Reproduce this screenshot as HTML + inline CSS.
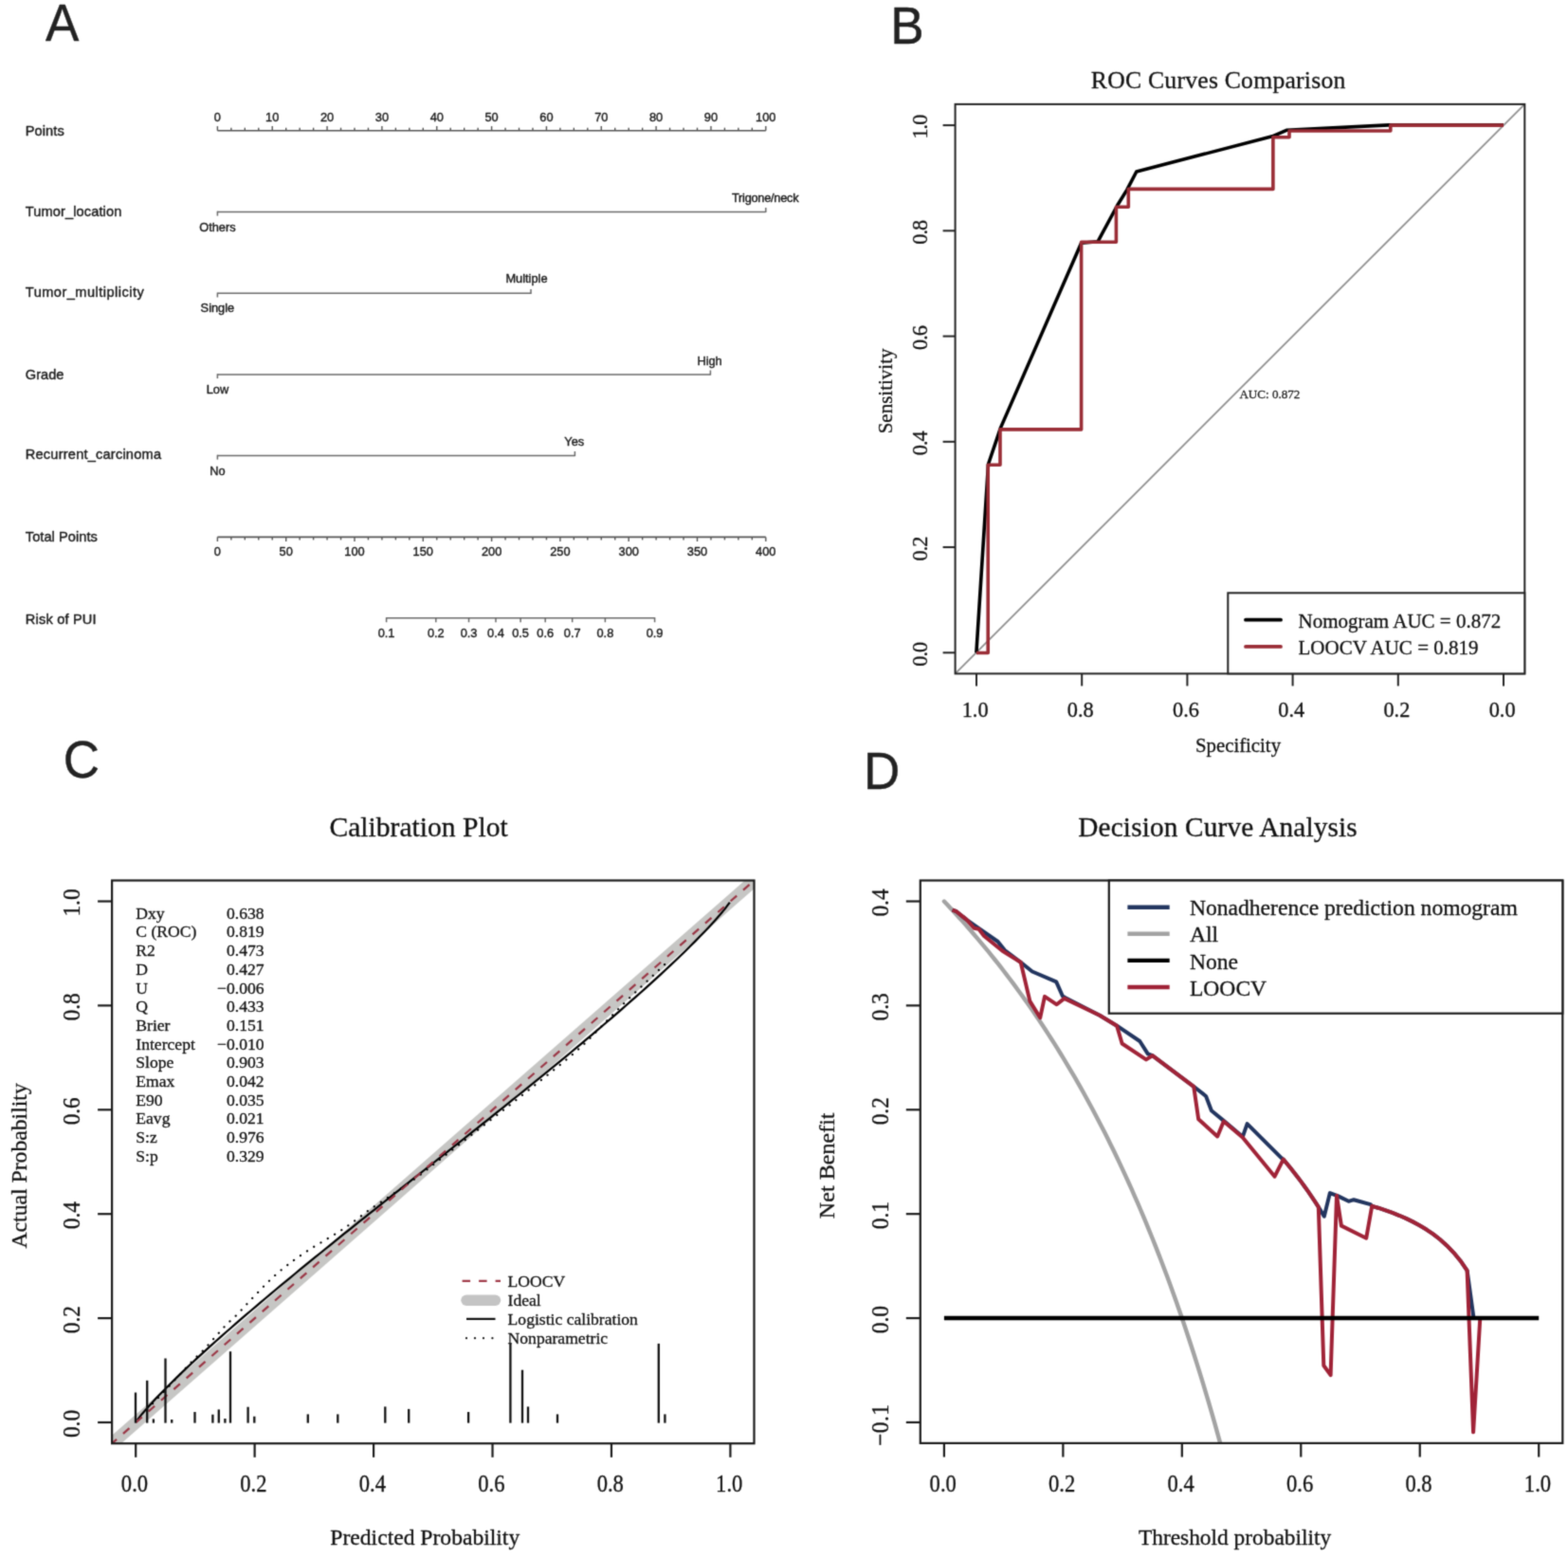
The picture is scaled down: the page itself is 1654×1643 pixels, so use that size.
<!DOCTYPE html>
<html><head><meta charset="utf-8"><title>Figure</title>
<style>html,body{margin:0;padding:0;background:#fff;}svg{display:block;}
text{paint-order:stroke;stroke-linejoin:round;}
text.s{stroke:#1a1a1a;stroke-width:0.4px;}
text.r{stroke:#111;stroke-width:0.3px;}</style></head>
<body><svg width="1654" height="1643" viewBox="0 0 1654 1643">
<defs><filter id="soft" x="0" y="0" width="1654" height="1643" filterUnits="userSpaceOnUse" color-interpolation-filters="sRGB"><feConvolveMatrix order="3" kernelMatrix="0.02768 0.11101 0.02768 0.11101 0.44521 0.11101 0.02768 0.11101 0.02768" divisor="1" edgeMode="duplicate" preserveAlpha="true"/></filter></defs>
<g filter="url(#soft)">
<rect width="1654" height="1643" fill="#fff"/>
<text class="s" transform="translate(48 42.6) scale(1 1.03)" font-size="53" font-family="'Liberation Sans', Arial, sans-serif" text-anchor="start" fill="#222">A</text>
<text class="s" transform="translate(939.3 45.6) scale(1 1.03)" font-size="53" font-family="'Liberation Sans', Arial, sans-serif" text-anchor="start" fill="#222">B</text>
<text class="s" transform="translate(66.7 820.3) scale(1 1.03)" font-size="53" font-family="'Liberation Sans', Arial, sans-serif" text-anchor="start" fill="#222">C</text>
<text class="s" transform="translate(910.9 832.4) scale(1 1.03)" font-size="53" font-family="'Liberation Sans', Arial, sans-serif" text-anchor="start" fill="#222">D</text>
<text class="s" x="26.8" y="143.3" font-size="14.6" font-family="'Liberation Sans', Arial, sans-serif" text-anchor="start" fill="#1a1a1a" textLength="40.9">Points</text>
<text class="s" x="26.8" y="227.6" font-size="14.6" font-family="'Liberation Sans', Arial, sans-serif" text-anchor="start" fill="#1a1a1a" textLength="101.5">Tumor_location</text>
<text class="s" x="26.8" y="313" font-size="14.6" font-family="'Liberation Sans', Arial, sans-serif" text-anchor="start" fill="#1a1a1a" textLength="125">Tumor_multiplicity</text>
<text class="s" x="26.8" y="399.9" font-size="14.6" font-family="'Liberation Sans', Arial, sans-serif" text-anchor="start" fill="#1a1a1a" textLength="40.6">Grade</text>
<text class="s" x="26.8" y="484.2" font-size="14.6" font-family="'Liberation Sans', Arial, sans-serif" text-anchor="start" fill="#1a1a1a" textLength="143.2">Recurrent_carcinoma</text>
<text class="s" x="26.8" y="571.3" font-size="14.6" font-family="'Liberation Sans', Arial, sans-serif" text-anchor="start" fill="#1a1a1a" textLength="76">Total Points</text>
<text class="s" x="26.8" y="657.5" font-size="14.6" font-family="'Liberation Sans', Arial, sans-serif" text-anchor="start" fill="#1a1a1a" textLength="74.8">Risk of PUI</text>
<line x1="229.4" y1="137.7" x2="807.8" y2="137.7" stroke="#555" stroke-width="1.6"/>
<line x1="229.4" y1="137.7" x2="229.4" y2="133.1" stroke="#555" stroke-width="1.4"/>
<text class="s" x="229.4" y="127.6" font-size="12.8" font-family="'Liberation Sans', Arial, sans-serif" text-anchor="middle" fill="#1a1a1a">0</text>
<line x1="243.86" y1="137.7" x2="243.86" y2="134.7" stroke="#555" stroke-width="1.4"/>
<line x1="258.32" y1="137.7" x2="258.32" y2="134.7" stroke="#555" stroke-width="1.4"/>
<line x1="272.78" y1="137.7" x2="272.78" y2="134.7" stroke="#555" stroke-width="1.4"/>
<line x1="287.24" y1="137.7" x2="287.24" y2="133.1" stroke="#555" stroke-width="1.4"/>
<text class="s" x="287.24" y="127.6" font-size="12.8" font-family="'Liberation Sans', Arial, sans-serif" text-anchor="middle" fill="#1a1a1a">10</text>
<line x1="301.7" y1="137.7" x2="301.7" y2="134.7" stroke="#555" stroke-width="1.4"/>
<line x1="316.16" y1="137.7" x2="316.16" y2="134.7" stroke="#555" stroke-width="1.4"/>
<line x1="330.62" y1="137.7" x2="330.62" y2="134.7" stroke="#555" stroke-width="1.4"/>
<line x1="345.08" y1="137.7" x2="345.08" y2="133.1" stroke="#555" stroke-width="1.4"/>
<text class="s" x="345.08" y="127.6" font-size="12.8" font-family="'Liberation Sans', Arial, sans-serif" text-anchor="middle" fill="#1a1a1a">20</text>
<line x1="359.54" y1="137.7" x2="359.54" y2="134.7" stroke="#555" stroke-width="1.4"/>
<line x1="374" y1="137.7" x2="374" y2="134.7" stroke="#555" stroke-width="1.4"/>
<line x1="388.46" y1="137.7" x2="388.46" y2="134.7" stroke="#555" stroke-width="1.4"/>
<line x1="402.92" y1="137.7" x2="402.92" y2="133.1" stroke="#555" stroke-width="1.4"/>
<text class="s" x="402.92" y="127.6" font-size="12.8" font-family="'Liberation Sans', Arial, sans-serif" text-anchor="middle" fill="#1a1a1a">30</text>
<line x1="417.38" y1="137.7" x2="417.38" y2="134.7" stroke="#555" stroke-width="1.4"/>
<line x1="431.84" y1="137.7" x2="431.84" y2="134.7" stroke="#555" stroke-width="1.4"/>
<line x1="446.3" y1="137.7" x2="446.3" y2="134.7" stroke="#555" stroke-width="1.4"/>
<line x1="460.76" y1="137.7" x2="460.76" y2="133.1" stroke="#555" stroke-width="1.4"/>
<text class="s" x="460.76" y="127.6" font-size="12.8" font-family="'Liberation Sans', Arial, sans-serif" text-anchor="middle" fill="#1a1a1a">40</text>
<line x1="475.22" y1="137.7" x2="475.22" y2="134.7" stroke="#555" stroke-width="1.4"/>
<line x1="489.68" y1="137.7" x2="489.68" y2="134.7" stroke="#555" stroke-width="1.4"/>
<line x1="504.14" y1="137.7" x2="504.14" y2="134.7" stroke="#555" stroke-width="1.4"/>
<line x1="518.6" y1="137.7" x2="518.6" y2="133.1" stroke="#555" stroke-width="1.4"/>
<text class="s" x="518.6" y="127.6" font-size="12.8" font-family="'Liberation Sans', Arial, sans-serif" text-anchor="middle" fill="#1a1a1a">50</text>
<line x1="533.06" y1="137.7" x2="533.06" y2="134.7" stroke="#555" stroke-width="1.4"/>
<line x1="547.52" y1="137.7" x2="547.52" y2="134.7" stroke="#555" stroke-width="1.4"/>
<line x1="561.98" y1="137.7" x2="561.98" y2="134.7" stroke="#555" stroke-width="1.4"/>
<line x1="576.44" y1="137.7" x2="576.44" y2="133.1" stroke="#555" stroke-width="1.4"/>
<text class="s" x="576.44" y="127.6" font-size="12.8" font-family="'Liberation Sans', Arial, sans-serif" text-anchor="middle" fill="#1a1a1a">60</text>
<line x1="590.9" y1="137.7" x2="590.9" y2="134.7" stroke="#555" stroke-width="1.4"/>
<line x1="605.36" y1="137.7" x2="605.36" y2="134.7" stroke="#555" stroke-width="1.4"/>
<line x1="619.82" y1="137.7" x2="619.82" y2="134.7" stroke="#555" stroke-width="1.4"/>
<line x1="634.28" y1="137.7" x2="634.28" y2="133.1" stroke="#555" stroke-width="1.4"/>
<text class="s" x="634.28" y="127.6" font-size="12.8" font-family="'Liberation Sans', Arial, sans-serif" text-anchor="middle" fill="#1a1a1a">70</text>
<line x1="648.74" y1="137.7" x2="648.74" y2="134.7" stroke="#555" stroke-width="1.4"/>
<line x1="663.2" y1="137.7" x2="663.2" y2="134.7" stroke="#555" stroke-width="1.4"/>
<line x1="677.66" y1="137.7" x2="677.66" y2="134.7" stroke="#555" stroke-width="1.4"/>
<line x1="692.12" y1="137.7" x2="692.12" y2="133.1" stroke="#555" stroke-width="1.4"/>
<text class="s" x="692.12" y="127.6" font-size="12.8" font-family="'Liberation Sans', Arial, sans-serif" text-anchor="middle" fill="#1a1a1a">80</text>
<line x1="706.58" y1="137.7" x2="706.58" y2="134.7" stroke="#555" stroke-width="1.4"/>
<line x1="721.04" y1="137.7" x2="721.04" y2="134.7" stroke="#555" stroke-width="1.4"/>
<line x1="735.5" y1="137.7" x2="735.5" y2="134.7" stroke="#555" stroke-width="1.4"/>
<line x1="749.96" y1="137.7" x2="749.96" y2="133.1" stroke="#555" stroke-width="1.4"/>
<text class="s" x="749.96" y="127.6" font-size="12.8" font-family="'Liberation Sans', Arial, sans-serif" text-anchor="middle" fill="#1a1a1a">90</text>
<line x1="764.42" y1="137.7" x2="764.42" y2="134.7" stroke="#555" stroke-width="1.4"/>
<line x1="778.88" y1="137.7" x2="778.88" y2="134.7" stroke="#555" stroke-width="1.4"/>
<line x1="793.34" y1="137.7" x2="793.34" y2="134.7" stroke="#555" stroke-width="1.4"/>
<line x1="807.8" y1="137.7" x2="807.8" y2="133.1" stroke="#555" stroke-width="1.4"/>
<text class="s" x="807.8" y="127.6" font-size="12.8" font-family="'Liberation Sans', Arial, sans-serif" text-anchor="middle" fill="#1a1a1a">100</text>
<line x1="229.4" y1="223.4" x2="807.8" y2="223.4" stroke="#6a6a6a" stroke-width="1.5"/>
<line x1="229.4" y1="222.7" x2="229.4" y2="227.6" stroke="#6a6a6a" stroke-width="1.5"/>
<line x1="807.8" y1="224.1" x2="807.8" y2="219" stroke="#6a6a6a" stroke-width="1.5"/>
<text class="s" x="229.4" y="243.9" font-size="12.8" font-family="'Liberation Sans', Arial, sans-serif" text-anchor="middle" fill="#1a1a1a">Others</text>
<text class="s" x="807.3" y="213" font-size="12.8" font-family="'Liberation Sans', Arial, sans-serif" text-anchor="middle" fill="#1a1a1a" textLength="70.6">Trigone/neck</text>
<line x1="229.4" y1="309.3" x2="560" y2="309.3" stroke="#6a6a6a" stroke-width="1.5"/>
<line x1="229.4" y1="308.6" x2="229.4" y2="313.5" stroke="#6a6a6a" stroke-width="1.5"/>
<line x1="560" y1="310" x2="560" y2="304.9" stroke="#6a6a6a" stroke-width="1.5"/>
<text class="s" x="229.4" y="329.3" font-size="12.8" font-family="'Liberation Sans', Arial, sans-serif" text-anchor="middle" fill="#1a1a1a">Single</text>
<text class="s" x="555.5" y="298.3" font-size="12.8" font-family="'Liberation Sans', Arial, sans-serif" text-anchor="middle" fill="#1a1a1a">Multiple</text>
<line x1="229.4" y1="394.9" x2="749.4" y2="394.9" stroke="#6a6a6a" stroke-width="1.5"/>
<line x1="229.4" y1="394.2" x2="229.4" y2="399.1" stroke="#6a6a6a" stroke-width="1.5"/>
<line x1="749.4" y1="395.6" x2="749.4" y2="390.5" stroke="#6a6a6a" stroke-width="1.5"/>
<text class="s" x="229.4" y="415" font-size="12.8" font-family="'Liberation Sans', Arial, sans-serif" text-anchor="middle" fill="#1a1a1a">Low</text>
<text class="s" x="748.6" y="384.5" font-size="12.8" font-family="'Liberation Sans', Arial, sans-serif" text-anchor="middle" fill="#1a1a1a">High</text>
<line x1="229.4" y1="480.4" x2="606.4" y2="480.4" stroke="#6a6a6a" stroke-width="1.5"/>
<line x1="229.4" y1="479.7" x2="229.4" y2="484.6" stroke="#6a6a6a" stroke-width="1.5"/>
<line x1="606.4" y1="481.1" x2="606.4" y2="476" stroke="#6a6a6a" stroke-width="1.5"/>
<text class="s" x="229.4" y="500.5" font-size="12.8" font-family="'Liberation Sans', Arial, sans-serif" text-anchor="middle" fill="#1a1a1a">No</text>
<text class="s" x="605.8" y="469.6" font-size="12.8" font-family="'Liberation Sans', Arial, sans-serif" text-anchor="middle" fill="#1a1a1a">Yes</text>
<line x1="229.4" y1="566.4" x2="807.8" y2="566.4" stroke="#555" stroke-width="1.6"/>
<line x1="229.4" y1="566.4" x2="229.4" y2="571" stroke="#555" stroke-width="1.4"/>
<text class="s" x="229.4" y="585.6" font-size="12.8" font-family="'Liberation Sans', Arial, sans-serif" text-anchor="middle" fill="#1a1a1a">0</text>
<line x1="243.86" y1="566.4" x2="243.86" y2="569.4" stroke="#555" stroke-width="1.4"/>
<line x1="258.32" y1="566.4" x2="258.32" y2="569.4" stroke="#555" stroke-width="1.4"/>
<line x1="272.78" y1="566.4" x2="272.78" y2="569.4" stroke="#555" stroke-width="1.4"/>
<line x1="287.24" y1="566.4" x2="287.24" y2="569.4" stroke="#555" stroke-width="1.4"/>
<line x1="301.7" y1="566.4" x2="301.7" y2="571" stroke="#555" stroke-width="1.4"/>
<text class="s" x="301.7" y="585.6" font-size="12.8" font-family="'Liberation Sans', Arial, sans-serif" text-anchor="middle" fill="#1a1a1a">50</text>
<line x1="316.16" y1="566.4" x2="316.16" y2="569.4" stroke="#555" stroke-width="1.4"/>
<line x1="330.62" y1="566.4" x2="330.62" y2="569.4" stroke="#555" stroke-width="1.4"/>
<line x1="345.08" y1="566.4" x2="345.08" y2="569.4" stroke="#555" stroke-width="1.4"/>
<line x1="359.54" y1="566.4" x2="359.54" y2="569.4" stroke="#555" stroke-width="1.4"/>
<line x1="374" y1="566.4" x2="374" y2="571" stroke="#555" stroke-width="1.4"/>
<text class="s" x="374" y="585.6" font-size="12.8" font-family="'Liberation Sans', Arial, sans-serif" text-anchor="middle" fill="#1a1a1a">100</text>
<line x1="388.46" y1="566.4" x2="388.46" y2="569.4" stroke="#555" stroke-width="1.4"/>
<line x1="402.92" y1="566.4" x2="402.92" y2="569.4" stroke="#555" stroke-width="1.4"/>
<line x1="417.38" y1="566.4" x2="417.38" y2="569.4" stroke="#555" stroke-width="1.4"/>
<line x1="431.84" y1="566.4" x2="431.84" y2="569.4" stroke="#555" stroke-width="1.4"/>
<line x1="446.3" y1="566.4" x2="446.3" y2="571" stroke="#555" stroke-width="1.4"/>
<text class="s" x="446.3" y="585.6" font-size="12.8" font-family="'Liberation Sans', Arial, sans-serif" text-anchor="middle" fill="#1a1a1a">150</text>
<line x1="460.76" y1="566.4" x2="460.76" y2="569.4" stroke="#555" stroke-width="1.4"/>
<line x1="475.22" y1="566.4" x2="475.22" y2="569.4" stroke="#555" stroke-width="1.4"/>
<line x1="489.68" y1="566.4" x2="489.68" y2="569.4" stroke="#555" stroke-width="1.4"/>
<line x1="504.14" y1="566.4" x2="504.14" y2="569.4" stroke="#555" stroke-width="1.4"/>
<line x1="518.6" y1="566.4" x2="518.6" y2="571" stroke="#555" stroke-width="1.4"/>
<text class="s" x="518.6" y="585.6" font-size="12.8" font-family="'Liberation Sans', Arial, sans-serif" text-anchor="middle" fill="#1a1a1a">200</text>
<line x1="533.06" y1="566.4" x2="533.06" y2="569.4" stroke="#555" stroke-width="1.4"/>
<line x1="547.52" y1="566.4" x2="547.52" y2="569.4" stroke="#555" stroke-width="1.4"/>
<line x1="561.98" y1="566.4" x2="561.98" y2="569.4" stroke="#555" stroke-width="1.4"/>
<line x1="576.44" y1="566.4" x2="576.44" y2="569.4" stroke="#555" stroke-width="1.4"/>
<line x1="590.9" y1="566.4" x2="590.9" y2="571" stroke="#555" stroke-width="1.4"/>
<text class="s" x="590.9" y="585.6" font-size="12.8" font-family="'Liberation Sans', Arial, sans-serif" text-anchor="middle" fill="#1a1a1a">250</text>
<line x1="605.36" y1="566.4" x2="605.36" y2="569.4" stroke="#555" stroke-width="1.4"/>
<line x1="619.82" y1="566.4" x2="619.82" y2="569.4" stroke="#555" stroke-width="1.4"/>
<line x1="634.28" y1="566.4" x2="634.28" y2="569.4" stroke="#555" stroke-width="1.4"/>
<line x1="648.74" y1="566.4" x2="648.74" y2="569.4" stroke="#555" stroke-width="1.4"/>
<line x1="663.2" y1="566.4" x2="663.2" y2="571" stroke="#555" stroke-width="1.4"/>
<text class="s" x="663.2" y="585.6" font-size="12.8" font-family="'Liberation Sans', Arial, sans-serif" text-anchor="middle" fill="#1a1a1a">300</text>
<line x1="677.66" y1="566.4" x2="677.66" y2="569.4" stroke="#555" stroke-width="1.4"/>
<line x1="692.12" y1="566.4" x2="692.12" y2="569.4" stroke="#555" stroke-width="1.4"/>
<line x1="706.58" y1="566.4" x2="706.58" y2="569.4" stroke="#555" stroke-width="1.4"/>
<line x1="721.04" y1="566.4" x2="721.04" y2="569.4" stroke="#555" stroke-width="1.4"/>
<line x1="735.5" y1="566.4" x2="735.5" y2="571" stroke="#555" stroke-width="1.4"/>
<text class="s" x="735.5" y="585.6" font-size="12.8" font-family="'Liberation Sans', Arial, sans-serif" text-anchor="middle" fill="#1a1a1a">350</text>
<line x1="749.96" y1="566.4" x2="749.96" y2="569.4" stroke="#555" stroke-width="1.4"/>
<line x1="764.42" y1="566.4" x2="764.42" y2="569.4" stroke="#555" stroke-width="1.4"/>
<line x1="778.88" y1="566.4" x2="778.88" y2="569.4" stroke="#555" stroke-width="1.4"/>
<line x1="793.34" y1="566.4" x2="793.34" y2="569.4" stroke="#555" stroke-width="1.4"/>
<line x1="807.8" y1="566.4" x2="807.8" y2="571" stroke="#555" stroke-width="1.4"/>
<text class="s" x="807.8" y="585.6" font-size="12.8" font-family="'Liberation Sans', Arial, sans-serif" text-anchor="middle" fill="#1a1a1a">400</text>
<line x1="407.6" y1="651.8" x2="690.6" y2="651.8" stroke="#6a6a6a" stroke-width="1.5"/>
<line x1="407.6" y1="651.1" x2="407.6" y2="656.2" stroke="#6a6a6a" stroke-width="1.5"/>
<text class="s" x="407.6" y="671.6" font-size="12.8" font-family="'Liberation Sans', Arial, sans-serif" text-anchor="middle" fill="#1a1a1a">0.1</text>
<line x1="459.82" y1="651.1" x2="459.82" y2="656.2" stroke="#6a6a6a" stroke-width="1.5"/>
<text class="s" x="459.82" y="671.6" font-size="12.8" font-family="'Liberation Sans', Arial, sans-serif" text-anchor="middle" fill="#1a1a1a">0.2</text>
<line x1="494.53" y1="651.1" x2="494.53" y2="656.2" stroke="#6a6a6a" stroke-width="1.5"/>
<text class="s" x="494.53" y="671.6" font-size="12.8" font-family="'Liberation Sans', Arial, sans-serif" text-anchor="middle" fill="#1a1a1a">0.3</text>
<line x1="522.99" y1="651.1" x2="522.99" y2="656.2" stroke="#6a6a6a" stroke-width="1.5"/>
<text class="s" x="522.99" y="671.6" font-size="12.8" font-family="'Liberation Sans', Arial, sans-serif" text-anchor="middle" fill="#1a1a1a">0.4</text>
<line x1="549.1" y1="651.1" x2="549.1" y2="656.2" stroke="#6a6a6a" stroke-width="1.5"/>
<text class="s" x="549.1" y="671.6" font-size="12.8" font-family="'Liberation Sans', Arial, sans-serif" text-anchor="middle" fill="#1a1a1a">0.5</text>
<line x1="575.21" y1="651.1" x2="575.21" y2="656.2" stroke="#6a6a6a" stroke-width="1.5"/>
<text class="s" x="575.21" y="671.6" font-size="12.8" font-family="'Liberation Sans', Arial, sans-serif" text-anchor="middle" fill="#1a1a1a">0.6</text>
<line x1="603.67" y1="651.1" x2="603.67" y2="656.2" stroke="#6a6a6a" stroke-width="1.5"/>
<text class="s" x="603.67" y="671.6" font-size="12.8" font-family="'Liberation Sans', Arial, sans-serif" text-anchor="middle" fill="#1a1a1a">0.7</text>
<line x1="638.38" y1="651.1" x2="638.38" y2="656.2" stroke="#6a6a6a" stroke-width="1.5"/>
<text class="s" x="638.38" y="671.6" font-size="12.8" font-family="'Liberation Sans', Arial, sans-serif" text-anchor="middle" fill="#1a1a1a">0.8</text>
<line x1="690.6" y1="651.1" x2="690.6" y2="656.2" stroke="#6a6a6a" stroke-width="1.5"/>
<text class="s" x="690.6" y="671.6" font-size="12.8" font-family="'Liberation Sans', Arial, sans-serif" text-anchor="middle" fill="#1a1a1a">0.9</text>
<line x1="1007.6" y1="710.4" x2="1608.3" y2="109.9" stroke="#8f8f8f" stroke-width="1.8"/>
<polyline points="1029.9,688.3 1042.5,489.5 1055.5,451.1 1140.6,256.2 1158,254.8 1178.7,216.5 1188.8,200.1 1198.8,181 1342,143.8 1357,137.3 1465,131.9 1586,131.9" fill="none" stroke="#000" stroke-width="3.6" stroke-linejoin="round"/>
<polyline points="1586,132.1 1466.8,132.1 1466.8,138 1360,138 1360,144.8 1342.9,144.8 1342.9,199.4 1190.3,199.4 1190.3,218.3 1177.4,218.3 1177.4,255.2 1140.6,255.2 1140.6,452.9 1055,452.9 1055,490.3 1042.2,490.3 1042.2,688.5 1029.9,688.5" fill="none" stroke="#9a2d36" stroke-width="3.6" stroke-linejoin="round" stroke-linejoin="miter"/>
<rect x="1007.6" y="109.9" width="600.7" height="600.5" fill="none" stroke="#222" stroke-width="2"/>
<line x1="1586" y1="710.4" x2="1586" y2="723.4" stroke="#222" stroke-width="2"/>
<text class="r" x="1584.6" y="756.4" font-size="22.3" font-family="'Liberation Serif', 'Times New Roman', serif" text-anchor="middle" fill="#111">0.0</text>
<line x1="1007.6" y1="688.3" x2="994.6" y2="688.3" stroke="#222" stroke-width="2"/>
<text class="r" transform="translate(978.2 689.8) rotate(-90)" font-size="22.3" font-family="'Liberation Serif', 'Times New Roman', serif" text-anchor="middle" fill="#111" textLength="26">0.0</text>
<line x1="1474.8" y1="710.4" x2="1474.8" y2="723.4" stroke="#222" stroke-width="2"/>
<text class="r" x="1473.4" y="756.4" font-size="22.3" font-family="'Liberation Serif', 'Times New Roman', serif" text-anchor="middle" fill="#111">0.2</text>
<line x1="1007.6" y1="577.06" x2="994.6" y2="577.06" stroke="#222" stroke-width="2"/>
<text class="r" transform="translate(978.2 578.56) rotate(-90)" font-size="22.3" font-family="'Liberation Serif', 'Times New Roman', serif" text-anchor="middle" fill="#111" textLength="26">0.2</text>
<line x1="1363.6" y1="710.4" x2="1363.6" y2="723.4" stroke="#222" stroke-width="2"/>
<text class="r" x="1362.2" y="756.4" font-size="22.3" font-family="'Liberation Serif', 'Times New Roman', serif" text-anchor="middle" fill="#111">0.4</text>
<line x1="1007.6" y1="465.82" x2="994.6" y2="465.82" stroke="#222" stroke-width="2"/>
<text class="r" transform="translate(978.2 467.32) rotate(-90)" font-size="22.3" font-family="'Liberation Serif', 'Times New Roman', serif" text-anchor="middle" fill="#111" textLength="26">0.4</text>
<line x1="1252.4" y1="710.4" x2="1252.4" y2="723.4" stroke="#222" stroke-width="2"/>
<text class="r" x="1251" y="756.4" font-size="22.3" font-family="'Liberation Serif', 'Times New Roman', serif" text-anchor="middle" fill="#111">0.6</text>
<line x1="1007.6" y1="354.58" x2="994.6" y2="354.58" stroke="#222" stroke-width="2"/>
<text class="r" transform="translate(978.2 356.08) rotate(-90)" font-size="22.3" font-family="'Liberation Serif', 'Times New Roman', serif" text-anchor="middle" fill="#111" textLength="26">0.6</text>
<line x1="1141.2" y1="710.4" x2="1141.2" y2="723.4" stroke="#222" stroke-width="2"/>
<text class="r" x="1139.8" y="756.4" font-size="22.3" font-family="'Liberation Serif', 'Times New Roman', serif" text-anchor="middle" fill="#111">0.8</text>
<line x1="1007.6" y1="243.34" x2="994.6" y2="243.34" stroke="#222" stroke-width="2"/>
<text class="r" transform="translate(978.2 244.84) rotate(-90)" font-size="22.3" font-family="'Liberation Serif', 'Times New Roman', serif" text-anchor="middle" fill="#111" textLength="26">0.8</text>
<line x1="1030" y1="710.4" x2="1030" y2="723.4" stroke="#222" stroke-width="2"/>
<text class="r" x="1028.6" y="756.4" font-size="22.3" font-family="'Liberation Serif', 'Times New Roman', serif" text-anchor="middle" fill="#111">1.0</text>
<line x1="1007.6" y1="132.1" x2="994.6" y2="132.1" stroke="#222" stroke-width="2"/>
<text class="r" transform="translate(978.2 133.6) rotate(-90)" font-size="22.3" font-family="'Liberation Serif', 'Times New Roman', serif" text-anchor="middle" fill="#111" textLength="26">1.0</text>
<text class="r" x="1285.1" y="92.8" font-size="25.7" font-family="'Liberation Serif', 'Times New Roman', serif" text-anchor="middle" fill="#111" textLength="268.5">ROC Curves Comparison</text>
<text class="r" x="1306" y="792.6" font-size="20.8" font-family="'Liberation Serif', 'Times New Roman', serif" text-anchor="middle" fill="#111">Specificity</text>
<text class="r" transform="translate(940.5 412.4) rotate(-90)" font-size="21" font-family="'Liberation Serif', 'Times New Roman', serif" text-anchor="middle" fill="#111">Sensitivity</text>
<text class="r" x="1339.4" y="419.6" font-size="13.1" font-family="'Liberation Serif', 'Times New Roman', serif" text-anchor="middle" fill="#222">AUC: 0.872</text>
<rect x="1295.3" y="625.3" width="313" height="85.1" fill="#fff" stroke="#222" stroke-width="2"/>
<line x1="1314" y1="653.7" x2="1351" y2="653.7" stroke="#000" stroke-width="3.8" stroke-linecap="round"/>
<line x1="1314" y1="681.9" x2="1351" y2="681.9" stroke="#9a2d36" stroke-width="3.8" stroke-linecap="round"/>
<text class="r" x="1369.5" y="661.9" font-size="21" font-family="'Liberation Serif', 'Times New Roman', serif" text-anchor="start" fill="#111">Nomogram AUC = 0.872</text>
<text class="r" x="1369.5" y="689.5" font-size="21" font-family="'Liberation Serif', 'Times New Roman', serif" text-anchor="start" fill="#111">LOOCV AUC = 0.819</text>
<defs><clipPath id="clipC"><rect x="118.1" y="928.5" width="677.4" height="593.7"/></clipPath><clipPath id="clipD"><rect x="970.8" y="928.5" width="677.5" height="593.4"/></clipPath></defs>
<g clip-path="url(#clipC)">
<line x1="118.1" y1="1522.2" x2="795.5" y2="928.5" stroke="#c6c6c4" stroke-width="13"/>
<polyline points="155.12,1486.26 156.56,1484.76 158.43,1482.82 160.64,1480.53 163.14,1477.94 165.84,1475.12 168.7,1472.13 171.62,1469.05 174.56,1465.93 177.69,1462.58 181.14,1458.83 184.81,1454.84 188.55,1450.76 192.25,1446.74 195.77,1442.92 198.99,1439.45 201.78,1436.48 204.12,1434.04 206.12,1432.02 207.86,1430.31 209.41,1428.82 210.83,1427.46 212.2,1426.13 213.59,1424.76 215.08,1423.23 216.6,1421.62 218.08,1420.01 219.52,1418.42 220.93,1416.83 222.34,1415.24 223.75,1413.65 225.17,1412.05 226.62,1410.43 228.09,1408.79 229.56,1407.13 231.03,1405.46 232.52,1403.78 234.01,1402.11 235.51,1400.46 237.02,1398.83 238.53,1397.24 240.03,1395.74 241.49,1394.34 242.95,1392.98 244.42,1391.64 245.93,1390.24 247.52,1388.76 249.21,1387.13 251.02,1385.32 252.92,1383.33 254.89,1381.23 256.92,1379.02 259.04,1376.7 261.26,1374.27 263.59,1371.76 266.04,1369.16 268.64,1366.47 271.39,1363.64 274.29,1360.63 277.32,1357.5 280.45,1354.29 283.68,1351.06 286.99,1347.86 290.34,1344.74 293.73,1341.74 297.13,1338.89 300.56,1336.12 304.03,1333.41 307.58,1330.74 311.22,1328.08 315,1325.41 318.92,1322.7 323.02,1319.93 327.4,1317.09 332.08,1314.19 336.97,1311.26 341.96,1308.31 346.94,1305.37 351.81,1302.46 356.48,1299.59 360.84,1296.79 364.92,1294.02 368.85,1291.24 372.63,1288.48 376.27,1285.76 379.79,1283.11 383.19,1280.55 386.49,1278.1 389.69,1275.8 392.71,1273.71 395.5,1271.81 398.14,1270.06 400.68,1268.39 403.21,1266.74 405.79,1265.05 408.49,1263.26 411.39,1261.3 414.45,1259.22 417.58,1257.09 420.8,1254.91 424.08,1252.67 427.45,1250.35 430.89,1247.94 434.4,1245.44 437.98,1242.83 441.62,1240.13 445.28,1237.36 449.01,1234.5 452.82,1231.55 456.73,1228.5 460.77,1225.34 464.97,1222.06 469.34,1218.66 473.93,1215.09 478.73,1211.35 483.7,1207.48 488.79,1203.51 493.95,1199.47 499.16,1195.41 504.35,1191.35 509.48,1187.33 514.5,1183.42 519.4,1179.62 524.27,1175.84 529.18,1172.02 534.22,1168.09 539.47,1163.97 544.99,1159.61 550.88,1154.91 557.36,1149.75 564.45,1144.1 571.93,1138.15 579.55,1132.04 587.11,1125.94 594.36,1120.01 601.07,1114.41 607.01,1109.31 612.18,1104.67 616.79,1100.35 620.93,1096.29 624.73,1092.44 628.3,1088.73 631.74,1085.12 635.17,1081.56 638.69,1077.98 642.13,1074.53 645.31,1071.3 648.33,1068.21 651.29,1065.16 654.31,1062.08 657.49,1058.87 660.92,1055.45 664.72,1051.72 669.17,1047.41 674.31,1042.49 679.83,1037.24 685.44,1031.92 690.85,1026.8 695.76,1022.16 699.88,1018.27 702.91,1015.4" fill="none" stroke="#000" stroke-width="2.2" stroke-linejoin="round" stroke-dasharray="0.1 8.4" stroke-linecap="round"/>
<polyline points="144.77,1497.57 149.98,1490.94 155.18,1484.9 160.39,1479.15 165.6,1473.59 170.81,1468.19 176.02,1462.9 181.23,1457.72 186.43,1452.62 191.64,1447.6 196.85,1442.64 202.06,1437.75 207.27,1432.91 212.48,1428.12 217.69,1423.37 222.89,1418.67 228.1,1414 233.31,1409.37 238.52,1404.77 243.73,1400.21 248.94,1395.67 254.14,1391.16 259.35,1386.68 264.56,1382.22 269.77,1377.79 274.98,1373.37 280.19,1368.98 285.39,1364.61 290.6,1360.25 295.81,1355.91 301.02,1351.59 306.23,1347.29 311.44,1343 316.64,1338.72 321.85,1334.45 327.06,1330.2 332.27,1325.96 337.48,1321.73 342.69,1317.51 347.89,1313.3 353.1,1309.11 358.31,1304.91 363.52,1300.73 368.73,1296.56 373.94,1292.39 379.14,1288.22 384.35,1284.07 389.56,1279.92 394.77,1275.77 399.98,1271.63 405.19,1267.49 410.4,1263.36 415.6,1259.23 420.81,1255.1 426.02,1250.98 431.23,1246.85 436.44,1242.73 441.65,1238.61 446.85,1234.49 452.06,1230.37 457.27,1226.25 462.48,1222.13 467.69,1218.01 472.9,1213.89 478.1,1209.76 483.31,1205.63 488.52,1201.5 493.73,1197.37 498.94,1193.23 504.15,1189.09 509.35,1184.94 514.56,1180.79 519.77,1176.64 524.98,1172.47 530.19,1168.31 535.4,1164.13 540.6,1159.95 545.81,1155.76 551.02,1151.56 556.23,1147.35 561.44,1143.13 566.65,1138.9 571.85,1134.67 577.06,1130.42 582.27,1126.15 587.48,1121.88 592.69,1117.59 597.9,1113.29 603.1,1108.98 608.31,1104.64 613.52,1100.3 618.73,1095.93 623.94,1091.55 629.15,1087.15 634.36,1082.72 639.56,1078.28 644.77,1073.81 649.98,1069.33 655.19,1064.81 660.4,1060.27 665.61,1055.7 670.81,1051.1 676.02,1046.47 681.23,1041.81 686.44,1037.11 691.65,1032.37 696.86,1027.59 702.06,1022.77 707.27,1017.9 712.48,1012.97 717.69,1007.99 722.9,1002.94 728.11,997.82 733.31,992.62 738.52,987.33 743.73,981.93 748.94,976.41 754.15,970.72 759.36,964.81 764.56,958.58 769.77,951.58" fill="none" stroke="#000" stroke-width="2.2" stroke-linejoin="round"/>
<line x1="118.1" y1="1522.2" x2="795.5" y2="928.5" stroke="#9a3645" stroke-width="2.2" stroke-dasharray="8.7 9.05" stroke-dashoffset="2.05"/>
</g>
<line x1="143" y1="1500.6" x2="143" y2="1468.5" stroke="#111" stroke-width="2.3"/>
<line x1="155.2" y1="1500.6" x2="155.2" y2="1455.8" stroke="#111" stroke-width="2.3"/>
<line x1="161.9" y1="1500.6" x2="161.9" y2="1496.4" stroke="#111" stroke-width="2.3"/>
<line x1="174.5" y1="1500.6" x2="174.5" y2="1432.5" stroke="#111" stroke-width="2.3"/>
<line x1="181.2" y1="1500.6" x2="181.2" y2="1497" stroke="#111" stroke-width="2.3"/>
<line x1="205.5" y1="1500.6" x2="205.5" y2="1489" stroke="#111" stroke-width="2.3"/>
<line x1="224.4" y1="1500.6" x2="224.4" y2="1491.7" stroke="#111" stroke-width="2.3"/>
<line x1="230.8" y1="1500.6" x2="230.8" y2="1486.4" stroke="#111" stroke-width="2.3"/>
<line x1="237.4" y1="1500.6" x2="237.4" y2="1496" stroke="#111" stroke-width="2.3"/>
<line x1="243" y1="1500.6" x2="243" y2="1425.2" stroke="#111" stroke-width="2.3"/>
<line x1="261.6" y1="1500.6" x2="261.6" y2="1483.7" stroke="#111" stroke-width="2.3"/>
<line x1="268.3" y1="1500.6" x2="268.3" y2="1493.7" stroke="#111" stroke-width="2.3"/>
<line x1="324.8" y1="1500.6" x2="324.8" y2="1491.4" stroke="#111" stroke-width="2.3"/>
<line x1="356.3" y1="1500.6" x2="356.3" y2="1491.4" stroke="#111" stroke-width="2.3"/>
<line x1="406.3" y1="1500.6" x2="406.3" y2="1483.4" stroke="#111" stroke-width="2.3"/>
<line x1="431.2" y1="1500.6" x2="431.2" y2="1485.9" stroke="#111" stroke-width="2.3"/>
<line x1="494.1" y1="1500.6" x2="494.1" y2="1489" stroke="#111" stroke-width="2.3"/>
<line x1="538.4" y1="1500.6" x2="538.4" y2="1416.9" stroke="#111" stroke-width="2.3"/>
<line x1="551" y1="1500.6" x2="551" y2="1444.7" stroke="#111" stroke-width="2.3"/>
<line x1="557" y1="1500.6" x2="557" y2="1483.4" stroke="#111" stroke-width="2.3"/>
<line x1="588" y1="1500.6" x2="588" y2="1491.4" stroke="#111" stroke-width="2.3"/>
<line x1="694.8" y1="1500.6" x2="694.8" y2="1416.9" stroke="#111" stroke-width="2.3"/>
<line x1="701.4" y1="1500.6" x2="701.4" y2="1491.4" stroke="#111" stroke-width="2.3"/>
<rect x="118.1" y="928.5" width="677.4" height="593.7" fill="none" stroke="#1a1a1a" stroke-width="2.2"/>
<line x1="143.2" y1="1522.2" x2="143.2" y2="1536.8" stroke="#1a1a1a" stroke-width="2.2"/>
<text class="r" transform="translate(142 1572.7) scale(0.95 1.07)" font-size="23.8" font-family="'Liberation Serif', 'Times New Roman', serif" text-anchor="middle" fill="#111">0.0</text>
<line x1="118.1" y1="1500" x2="103.1" y2="1500" stroke="#1a1a1a" stroke-width="2.2"/>
<text class="r" transform="translate(84.2 1501.5) rotate(-90) scale(0.98 1.08)" font-size="23.8" font-family="'Liberation Serif', 'Times New Roman', serif" text-anchor="middle" fill="#111">0.0</text>
<line x1="268.64" y1="1522.2" x2="268.64" y2="1536.8" stroke="#1a1a1a" stroke-width="2.2"/>
<text class="r" transform="translate(267.44 1572.7) scale(0.95 1.07)" font-size="23.8" font-family="'Liberation Serif', 'Times New Roman', serif" text-anchor="middle" fill="#111">0.2</text>
<line x1="118.1" y1="1390.1" x2="103.1" y2="1390.1" stroke="#1a1a1a" stroke-width="2.2"/>
<text class="r" transform="translate(84.2 1391.6) rotate(-90) scale(0.98 1.08)" font-size="23.8" font-family="'Liberation Serif', 'Times New Roman', serif" text-anchor="middle" fill="#111">0.2</text>
<line x1="394.08" y1="1522.2" x2="394.08" y2="1536.8" stroke="#1a1a1a" stroke-width="2.2"/>
<text class="r" transform="translate(392.88 1572.7) scale(0.95 1.07)" font-size="23.8" font-family="'Liberation Serif', 'Times New Roman', serif" text-anchor="middle" fill="#111">0.4</text>
<line x1="118.1" y1="1280.2" x2="103.1" y2="1280.2" stroke="#1a1a1a" stroke-width="2.2"/>
<text class="r" transform="translate(84.2 1281.7) rotate(-90) scale(0.98 1.08)" font-size="23.8" font-family="'Liberation Serif', 'Times New Roman', serif" text-anchor="middle" fill="#111">0.4</text>
<line x1="519.52" y1="1522.2" x2="519.52" y2="1536.8" stroke="#1a1a1a" stroke-width="2.2"/>
<text class="r" transform="translate(518.32 1572.7) scale(0.95 1.07)" font-size="23.8" font-family="'Liberation Serif', 'Times New Roman', serif" text-anchor="middle" fill="#111">0.6</text>
<line x1="118.1" y1="1170.3" x2="103.1" y2="1170.3" stroke="#1a1a1a" stroke-width="2.2"/>
<text class="r" transform="translate(84.2 1171.8) rotate(-90) scale(0.98 1.08)" font-size="23.8" font-family="'Liberation Serif', 'Times New Roman', serif" text-anchor="middle" fill="#111">0.6</text>
<line x1="644.96" y1="1522.2" x2="644.96" y2="1536.8" stroke="#1a1a1a" stroke-width="2.2"/>
<text class="r" transform="translate(643.76 1572.7) scale(0.95 1.07)" font-size="23.8" font-family="'Liberation Serif', 'Times New Roman', serif" text-anchor="middle" fill="#111">0.8</text>
<line x1="118.1" y1="1060.4" x2="103.1" y2="1060.4" stroke="#1a1a1a" stroke-width="2.2"/>
<text class="r" transform="translate(84.2 1061.9) rotate(-90) scale(0.98 1.08)" font-size="23.8" font-family="'Liberation Serif', 'Times New Roman', serif" text-anchor="middle" fill="#111">0.8</text>
<line x1="770.4" y1="1522.2" x2="770.4" y2="1536.8" stroke="#1a1a1a" stroke-width="2.2"/>
<text class="r" transform="translate(769.2 1572.7) scale(0.95 1.07)" font-size="23.8" font-family="'Liberation Serif', 'Times New Roman', serif" text-anchor="middle" fill="#111">1.0</text>
<line x1="118.1" y1="950.5" x2="103.1" y2="950.5" stroke="#1a1a1a" stroke-width="2.2"/>
<text class="r" transform="translate(84.2 952) rotate(-90) scale(0.98 1.08)" font-size="23.8" font-family="'Liberation Serif', 'Times New Roman', serif" text-anchor="middle" fill="#111">1.0</text>
<text class="r" x="441.6" y="881.9" font-size="29.6" font-family="'Liberation Serif', 'Times New Roman', serif" text-anchor="middle" fill="#111">Calibration Plot</text>
<text class="r" x="448.3" y="1628.5" font-size="23.6" font-family="'Liberation Serif', 'Times New Roman', serif" text-anchor="middle" fill="#111">Predicted Probability</text>
<text class="r" transform="translate(27.5 1229.4) rotate(-90)" font-size="23.7" font-family="'Liberation Serif', 'Times New Roman', serif" text-anchor="middle" fill="#111">Actual Probability</text>
<text class="r" x="143.3" y="968.7" font-size="17.6" font-family="'Liberation Serif', 'Times New Roman', serif" text-anchor="start" fill="#111">Dxy</text>
<text class="r" x="278.6" y="968.7" font-size="17.6" font-family="'Liberation Serif', 'Times New Roman', serif" text-anchor="end" fill="#111">0.638</text>
<text class="r" x="143.3" y="988.4" font-size="17.6" font-family="'Liberation Serif', 'Times New Roman', serif" text-anchor="start" fill="#111">C (ROC)</text>
<text class="r" x="278.6" y="988.4" font-size="17.6" font-family="'Liberation Serif', 'Times New Roman', serif" text-anchor="end" fill="#111">0.819</text>
<text class="r" x="143.3" y="1008.1" font-size="17.6" font-family="'Liberation Serif', 'Times New Roman', serif" text-anchor="start" fill="#111">R2</text>
<text class="r" x="278.6" y="1008.1" font-size="17.6" font-family="'Liberation Serif', 'Times New Roman', serif" text-anchor="end" fill="#111">0.473</text>
<text class="r" x="143.3" y="1027.8" font-size="17.6" font-family="'Liberation Serif', 'Times New Roman', serif" text-anchor="start" fill="#111">D</text>
<text class="r" x="278.6" y="1027.8" font-size="17.6" font-family="'Liberation Serif', 'Times New Roman', serif" text-anchor="end" fill="#111">0.427</text>
<text class="r" x="143.3" y="1047.5" font-size="17.6" font-family="'Liberation Serif', 'Times New Roman', serif" text-anchor="start" fill="#111">U</text>
<text class="r" x="278.6" y="1047.5" font-size="17.6" font-family="'Liberation Serif', 'Times New Roman', serif" text-anchor="end" fill="#111">−0.006</text>
<text class="r" x="143.3" y="1067.2" font-size="17.6" font-family="'Liberation Serif', 'Times New Roman', serif" text-anchor="start" fill="#111">Q</text>
<text class="r" x="278.6" y="1067.2" font-size="17.6" font-family="'Liberation Serif', 'Times New Roman', serif" text-anchor="end" fill="#111">0.433</text>
<text class="r" x="143.3" y="1086.9" font-size="17.6" font-family="'Liberation Serif', 'Times New Roman', serif" text-anchor="start" fill="#111">Brier</text>
<text class="r" x="278.6" y="1086.9" font-size="17.6" font-family="'Liberation Serif', 'Times New Roman', serif" text-anchor="end" fill="#111">0.151</text>
<text class="r" x="143.3" y="1106.6" font-size="17.6" font-family="'Liberation Serif', 'Times New Roman', serif" text-anchor="start" fill="#111">Intercept</text>
<text class="r" x="278.6" y="1106.6" font-size="17.6" font-family="'Liberation Serif', 'Times New Roman', serif" text-anchor="end" fill="#111">−0.010</text>
<text class="r" x="143.3" y="1126.3" font-size="17.6" font-family="'Liberation Serif', 'Times New Roman', serif" text-anchor="start" fill="#111">Slope</text>
<text class="r" x="278.6" y="1126.3" font-size="17.6" font-family="'Liberation Serif', 'Times New Roman', serif" text-anchor="end" fill="#111">0.903</text>
<text class="r" x="143.3" y="1146" font-size="17.6" font-family="'Liberation Serif', 'Times New Roman', serif" text-anchor="start" fill="#111">Emax</text>
<text class="r" x="278.6" y="1146" font-size="17.6" font-family="'Liberation Serif', 'Times New Roman', serif" text-anchor="end" fill="#111">0.042</text>
<text class="r" x="143.3" y="1165.7" font-size="17.6" font-family="'Liberation Serif', 'Times New Roman', serif" text-anchor="start" fill="#111">E90</text>
<text class="r" x="278.6" y="1165.7" font-size="17.6" font-family="'Liberation Serif', 'Times New Roman', serif" text-anchor="end" fill="#111">0.035</text>
<text class="r" x="143.3" y="1185.4" font-size="17.6" font-family="'Liberation Serif', 'Times New Roman', serif" text-anchor="start" fill="#111">Eavg</text>
<text class="r" x="278.6" y="1185.4" font-size="17.6" font-family="'Liberation Serif', 'Times New Roman', serif" text-anchor="end" fill="#111">0.021</text>
<text class="r" x="143.3" y="1205.1" font-size="17.6" font-family="'Liberation Serif', 'Times New Roman', serif" text-anchor="start" fill="#111">S:z</text>
<text class="r" x="278.6" y="1205.1" font-size="17.6" font-family="'Liberation Serif', 'Times New Roman', serif" text-anchor="end" fill="#111">0.976</text>
<text class="r" x="143.3" y="1224.8" font-size="17.6" font-family="'Liberation Serif', 'Times New Roman', serif" text-anchor="start" fill="#111">S:p</text>
<text class="r" x="278.6" y="1224.8" font-size="17.6" font-family="'Liberation Serif', 'Times New Roman', serif" text-anchor="end" fill="#111">0.329</text>
<line x1="487.6" y1="1350.9" x2="528" y2="1350.9" stroke="#a03a48" stroke-width="2.4" stroke-dasharray="8.5 9"/>
<line x1="492" y1="1371.2" x2="522.5" y2="1371.2" stroke="#c4c4c4" stroke-width="11.4" stroke-linecap="round"/>
<line x1="492" y1="1390.9" x2="522.5" y2="1390.9" stroke="#111" stroke-width="2.2"/>
<circle cx="492" cy="1411.2" r="1.1" fill="#111"/>
<circle cx="501" cy="1411.2" r="1.1" fill="#111"/>
<circle cx="510" cy="1411.2" r="1.1" fill="#111"/>
<circle cx="519.4" cy="1411.2" r="1.1" fill="#111"/>
<text class="r" x="535.6" y="1356.7" font-size="17.6" font-family="'Liberation Serif', 'Times New Roman', serif" text-anchor="start" fill="#111">LOOCV</text>
<text class="r" x="535.6" y="1376.8" font-size="17.6" font-family="'Liberation Serif', 'Times New Roman', serif" text-anchor="start" fill="#111">Ideal</text>
<text class="r" x="535.6" y="1396.9" font-size="17.6" font-family="'Liberation Serif', 'Times New Roman', serif" text-anchor="start" fill="#111">Logistic calibration</text>
<text class="r" x="535.6" y="1417" font-size="17.6" font-family="'Liberation Serif', 'Times New Roman', serif" text-anchor="start" fill="#111">Nonparametric</text>
<g clip-path="url(#clipD)">
<polyline points="995.9,950.5 999.04,953.81 1002.17,957.16 1005.31,960.54 1008.45,963.96 1011.58,967.41 1014.72,970.89 1017.86,974.41 1020.99,977.97 1024.13,981.57 1027.26,985.2 1030.4,988.87 1033.54,992.59 1036.67,996.34 1039.81,1000.13 1042.95,1003.96 1046.08,1007.83 1049.22,1011.75 1052.36,1015.71 1055.49,1019.71 1058.63,1023.76 1061.77,1027.85 1064.9,1031.99 1068.04,1036.18 1071.18,1040.41 1074.31,1044.69 1077.45,1049.02 1080.59,1053.4 1083.72,1057.83 1086.86,1062.32 1089.99,1066.85 1093.13,1071.44 1096.27,1076.09 1099.4,1080.79 1102.54,1085.55 1105.68,1090.36 1108.81,1095.23 1111.95,1100.17 1115.09,1105.16 1118.22,1110.22 1121.36,1115.34 1124.5,1120.52 1127.63,1125.77 1130.77,1131.08 1133.91,1136.47 1137.04,1141.92 1140.18,1147.45 1143.32,1153.04 1146.45,1158.71 1149.59,1164.46 1152.72,1170.28 1155.86,1176.18 1159,1182.16 1162.13,1188.22 1165.27,1194.37 1168.41,1200.59 1171.54,1206.91 1174.68,1213.31 1177.82,1219.81 1180.95,1226.39 1184.09,1233.07 1187.23,1239.85 1190.36,1246.73 1193.5,1253.7 1196.64,1260.78 1199.77,1267.96 1202.91,1275.25 1206.05,1282.65 1209.18,1290.16 1212.32,1297.79 1215.45,1305.53 1218.59,1313.39 1221.73,1321.38 1224.86,1329.49 1228,1337.73 1231.14,1346.1 1234.27,1354.61 1237.41,1363.26 1240.55,1372.05 1243.68,1380.98 1246.82,1390.06 1249.96,1399.29 1253.09,1408.69 1256.23,1418.24 1259.37,1427.95 1262.5,1437.84 1265.64,1447.9 1268.78,1458.13 1271.91,1468.55 1275.05,1479.16 1278.18,1489.96 1281.32,1500.96 1284.46,1512.16 1287.59,1523.57 1290.73,1535.2 1293.87,1547.05 1297,1559.12 1300.14,1571.43 1303.28,1583.98 1306.41,1596.78" fill="none" stroke="#a3a3a3" stroke-width="4.4" stroke-linejoin="round" stroke-linecap="round"/>
<polyline points="1004.6,959.6 1008.9,961.2 1019.9,970.1 1032,978.6 1052.6,993 1059.8,1002.1 1076.7,1014.8 1088.8,1024.5 1114.2,1035.4 1120.9,1050.5 1123.9,1052.3 1160,1070.8 1178.1,1081.7 1202.3,1098 1210.8,1111.3 1215.6,1113.2 1259.2,1145.8 1272.1,1156 1277.9,1171.2 1290.5,1181.6 1310.8,1198.8 1315.6,1185.1 1351.9,1221.3 1353.7,1222.6 1357.41,1227 1361.12,1231.52 1364.83,1236.17 1368.54,1240.96 1372.25,1245.89 1375.96,1250.97 1379.67,1256.2 1383.38,1261.59 1387.09,1267.16 1390.8,1272.9 1396.8,1282.7 1402.9,1258.1 1411.6,1261.4 1422.6,1266.8 1428,1265.2 1445.6,1270.1 1447.2,1271.8 1454.37,1273.97 1461.54,1276.34 1468.71,1278.93 1475.89,1281.77 1483.06,1284.9 1490.23,1288.37 1497.4,1292.23 1504.57,1296.56 1511.74,1301.45 1518.91,1307.01 1526.09,1313.39 1533.26,1320.79 1540.43,1329.47 1547.6,1339.8 1554.5,1389.8" fill="none" stroke="#22355f" stroke-width="4" stroke-linejoin="round"/>
<polyline points="1004.6,959.6 1008.9,961.2 1019.9,970.1 1027.5,978.8 1032.5,979.8 1038,987 1057.4,1002.7 1076.7,1014.8 1086.4,1055.9 1097.2,1073.3 1102,1050.9 1114.7,1059.3 1122.7,1052.9 1160,1070.8 1178.1,1081.7 1183.6,1100.5 1209,1117.4 1215.6,1113.2 1259.2,1145.8 1264.2,1180.2 1284.2,1198.4 1290.8,1182.6 1310.8,1199.6 1344.6,1240.7 1353.7,1222.6 1357.41,1227 1361.12,1231.52 1364.83,1236.17 1368.54,1240.96 1372.25,1245.89 1375.96,1250.97 1379.67,1256.2 1383.38,1261.59 1387.09,1267.16 1390.8,1272.9 1396.3,1440 1403.6,1450.1 1410,1260.8 1414.9,1292.6 1441.2,1305.7 1447.2,1271.8 1454.37,1273.97 1461.54,1276.34 1468.71,1278.93 1475.89,1281.77 1483.06,1284.9 1490.23,1288.37 1497.4,1292.23 1504.57,1296.56 1511.74,1301.45 1518.91,1307.01 1526.09,1313.39 1533.26,1320.79 1540.43,1329.47 1547.6,1339.8 1554.1,1510.3 1561.3,1389.8" fill="none" stroke="#a02337" stroke-width="4" stroke-linejoin="round"/>
</g>
<line x1="995.9" y1="1390.06" x2="1623.2" y2="1390.06" stroke="#000" stroke-width="4.4"/>
<rect x="970.8" y="928.5" width="677.5" height="593.4" fill="none" stroke="#1a1a1a" stroke-width="2.2"/>
<line x1="995.9" y1="1521.9" x2="995.9" y2="1536.5" stroke="#1a1a1a" stroke-width="2.2"/>
<text class="r" transform="translate(994.7 1572.7) scale(0.95 1.07)" font-size="23.8" font-family="'Liberation Serif', 'Times New Roman', serif" text-anchor="middle" fill="#111">0.0</text>
<line x1="1121.36" y1="1521.9" x2="1121.36" y2="1536.5" stroke="#1a1a1a" stroke-width="2.2"/>
<text class="r" transform="translate(1120.16 1572.7) scale(0.95 1.07)" font-size="23.8" font-family="'Liberation Serif', 'Times New Roman', serif" text-anchor="middle" fill="#111">0.2</text>
<line x1="1246.82" y1="1521.9" x2="1246.82" y2="1536.5" stroke="#1a1a1a" stroke-width="2.2"/>
<text class="r" transform="translate(1245.62 1572.7) scale(0.95 1.07)" font-size="23.8" font-family="'Liberation Serif', 'Times New Roman', serif" text-anchor="middle" fill="#111">0.4</text>
<line x1="1372.28" y1="1521.9" x2="1372.28" y2="1536.5" stroke="#1a1a1a" stroke-width="2.2"/>
<text class="r" transform="translate(1371.08 1572.7) scale(0.95 1.07)" font-size="23.8" font-family="'Liberation Serif', 'Times New Roman', serif" text-anchor="middle" fill="#111">0.6</text>
<line x1="1497.74" y1="1521.9" x2="1497.74" y2="1536.5" stroke="#1a1a1a" stroke-width="2.2"/>
<text class="r" transform="translate(1496.54 1572.7) scale(0.95 1.07)" font-size="23.8" font-family="'Liberation Serif', 'Times New Roman', serif" text-anchor="middle" fill="#111">0.8</text>
<line x1="1623.2" y1="1521.9" x2="1623.2" y2="1536.5" stroke="#1a1a1a" stroke-width="2.2"/>
<text class="r" transform="translate(1622 1572.7) scale(0.95 1.07)" font-size="23.8" font-family="'Liberation Serif', 'Times New Roman', serif" text-anchor="middle" fill="#111">1.0</text>
<line x1="970.8" y1="1499.95" x2="955.8" y2="1499.95" stroke="#1a1a1a" stroke-width="2.2"/>
<text class="r" transform="translate(937 1502.95) rotate(-90) scale(0.98 1.08)" font-size="23.8" font-family="'Liberation Serif', 'Times New Roman', serif" text-anchor="middle" fill="#111" textLength="44.5">−0.1</text>
<line x1="970.8" y1="1390.06" x2="955.8" y2="1390.06" stroke="#1a1a1a" stroke-width="2.2"/>
<text class="r" transform="translate(937 1391.56) rotate(-90) scale(0.98 1.08)" font-size="23.8" font-family="'Liberation Serif', 'Times New Roman', serif" text-anchor="middle" fill="#111">0.0</text>
<line x1="970.8" y1="1280.17" x2="955.8" y2="1280.17" stroke="#1a1a1a" stroke-width="2.2"/>
<text class="r" transform="translate(937 1281.67) rotate(-90) scale(0.98 1.08)" font-size="23.8" font-family="'Liberation Serif', 'Times New Roman', serif" text-anchor="middle" fill="#111">0.1</text>
<line x1="970.8" y1="1170.28" x2="955.8" y2="1170.28" stroke="#1a1a1a" stroke-width="2.2"/>
<text class="r" transform="translate(937 1171.78) rotate(-90) scale(0.98 1.08)" font-size="23.8" font-family="'Liberation Serif', 'Times New Roman', serif" text-anchor="middle" fill="#111">0.2</text>
<line x1="970.8" y1="1060.39" x2="955.8" y2="1060.39" stroke="#1a1a1a" stroke-width="2.2"/>
<text class="r" transform="translate(937 1061.89) rotate(-90) scale(0.98 1.08)" font-size="23.8" font-family="'Liberation Serif', 'Times New Roman', serif" text-anchor="middle" fill="#111">0.3</text>
<line x1="970.8" y1="950.5" x2="955.8" y2="950.5" stroke="#1a1a1a" stroke-width="2.2"/>
<text class="r" transform="translate(937 952) rotate(-90) scale(0.98 1.08)" font-size="23.8" font-family="'Liberation Serif', 'Times New Roman', serif" text-anchor="middle" fill="#111">0.4</text>
<text class="r" x="1284.5" y="881.9" font-size="29.3" font-family="'Liberation Serif', 'Times New Roman', serif" text-anchor="middle" fill="#111" textLength="294.5">Decision Curve Analysis</text>
<text class="r" x="1302.6" y="1628.5" font-size="23.4" font-family="'Liberation Serif', 'Times New Roman', serif" text-anchor="middle" fill="#111">Threshold probability</text>
<text class="r" transform="translate(880.2 1229.3) rotate(-90)" font-size="24.1" font-family="'Liberation Serif', 'Times New Roman', serif" text-anchor="middle" fill="#111">Net Benefit</text>
<rect x="1169.8" y="928.5" width="478.5" height="140.2" fill="#fff" stroke="#1a1a1a" stroke-width="2.2"/>
<line x1="1189.4" y1="956.7" x2="1233.7" y2="956.7" stroke="#22355f" stroke-width="4.4"/>
<text class="r" x="1254.9" y="965.3" font-size="23.6" font-family="'Liberation Serif', 'Times New Roman', serif" text-anchor="start" fill="#111">Nonadherence prediction nomogram</text>
<line x1="1189.4" y1="984.8" x2="1233.7" y2="984.8" stroke="#a3a3a3" stroke-width="4.4"/>
<text class="r" x="1254.9" y="993.4" font-size="23.6" font-family="'Liberation Serif', 'Times New Roman', serif" text-anchor="start" fill="#111">All</text>
<line x1="1189.4" y1="1012.9" x2="1233.7" y2="1012.9" stroke="#000" stroke-width="4.4"/>
<text class="r" x="1254.9" y="1021.5" font-size="23.6" font-family="'Liberation Serif', 'Times New Roman', serif" text-anchor="start" fill="#111">None</text>
<line x1="1189.4" y1="1041" x2="1233.7" y2="1041" stroke="#a02337" stroke-width="4.4"/>
<text class="r" x="1254.9" y="1049.6" font-size="23.6" font-family="'Liberation Serif', 'Times New Roman', serif" text-anchor="start" fill="#111">LOOCV</text>
</g>
</svg></body></html>
